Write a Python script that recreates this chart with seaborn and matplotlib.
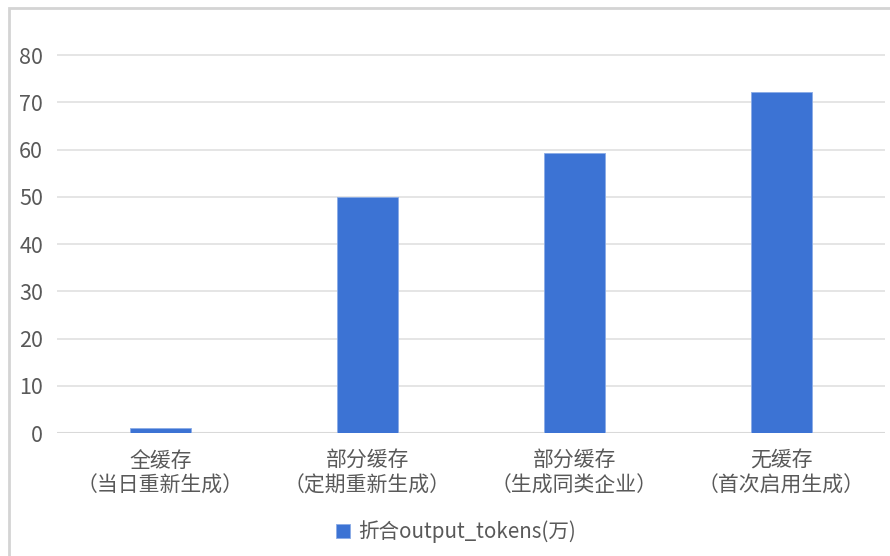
import matplotlib
matplotlib.use('Agg')
import matplotlib.pyplot as plt
import seaborn as sns
import pandas as pd
from matplotlib.patches import Rectangle

# Datos
categorias = ['全缓存\n（当日重新生成）', '部分缓存\n（定期重新生成）',
              '部分缓存\n（生成同类企业）', '无缓存\n（首次启用生成）']
valores = [1, 50, 59.3, 72.3]
serie = '折合output_tokens(万)'
yticks = [0, 10, 20, 30, 40, 50, 60, 70, 80]

sns.set_theme(style='white')
plt.rcParams['font.family'] = ['Noto Sans CJK SC', 'DejaVu Sans']

df = pd.DataFrame({'categoria': categorias, 'valor': valores, 'serie': serie})

fig = plt.figure(figsize=(8.9, 5.56), dpi=100)
ax = fig.add_axes([57 / 890, 1 - 433 / 556, (885 - 57) / 890, (433 - 8) / 556])

sns.barplot(data=df, x='categoria', y='valor', hue='serie', palette=['#3C73D4'],
            saturation=1, width=0.29, ax=ax, legend=True,
            edgecolor='#8AABE6', linewidth=0.6, zorder=3)

ax.set_ylim(0, 90)
ax.set_xlim(-0.5, 3.5)
ax.set_yticks(yticks)
ax.yaxis.grid(True, color='#E3E3E3', linewidth=1.3, zorder=0)
ax.set_axisbelow(True)
ax.axhline(0, color='#D9D9D9', linewidth=1.5, zorder=2)
for s in ax.spines.values():
    s.set_visible(False)
ax.set_xlabel('')
ax.set_ylabel('')
ax.tick_params(axis='y', length=0, pad=10, labelsize=15.5, labelcolor='#595959')
ax.tick_params(axis='x', length=0, pad=12, labelsize=15, labelcolor='#595959')
for t in ax.get_xticklabels():
    t.set_linespacing(1.15)

ax.get_legend().remove()
handles, labels = ax.get_legend_handles_labels()
fig.legend(handles, labels, loc='center', bbox_to_anchor=(456 / 890, 1 - 532 / 556),
           frameon=False, fontsize=14.8, labelcolor='#595959', handlelength=0.7,
           handleheight=0.7, handletextpad=0.4)

# Marco gris del recorte (izquierda y arriba)
fig.add_artist(Rectangle((9 / 890, -0.05), 1.2, 1.05 - 8 / 556, transform=fig.transFigure,
                         fill=False, edgecolor='#D4D4D4', linewidth=2))

fig.savefig('out.png', dpi=100)
